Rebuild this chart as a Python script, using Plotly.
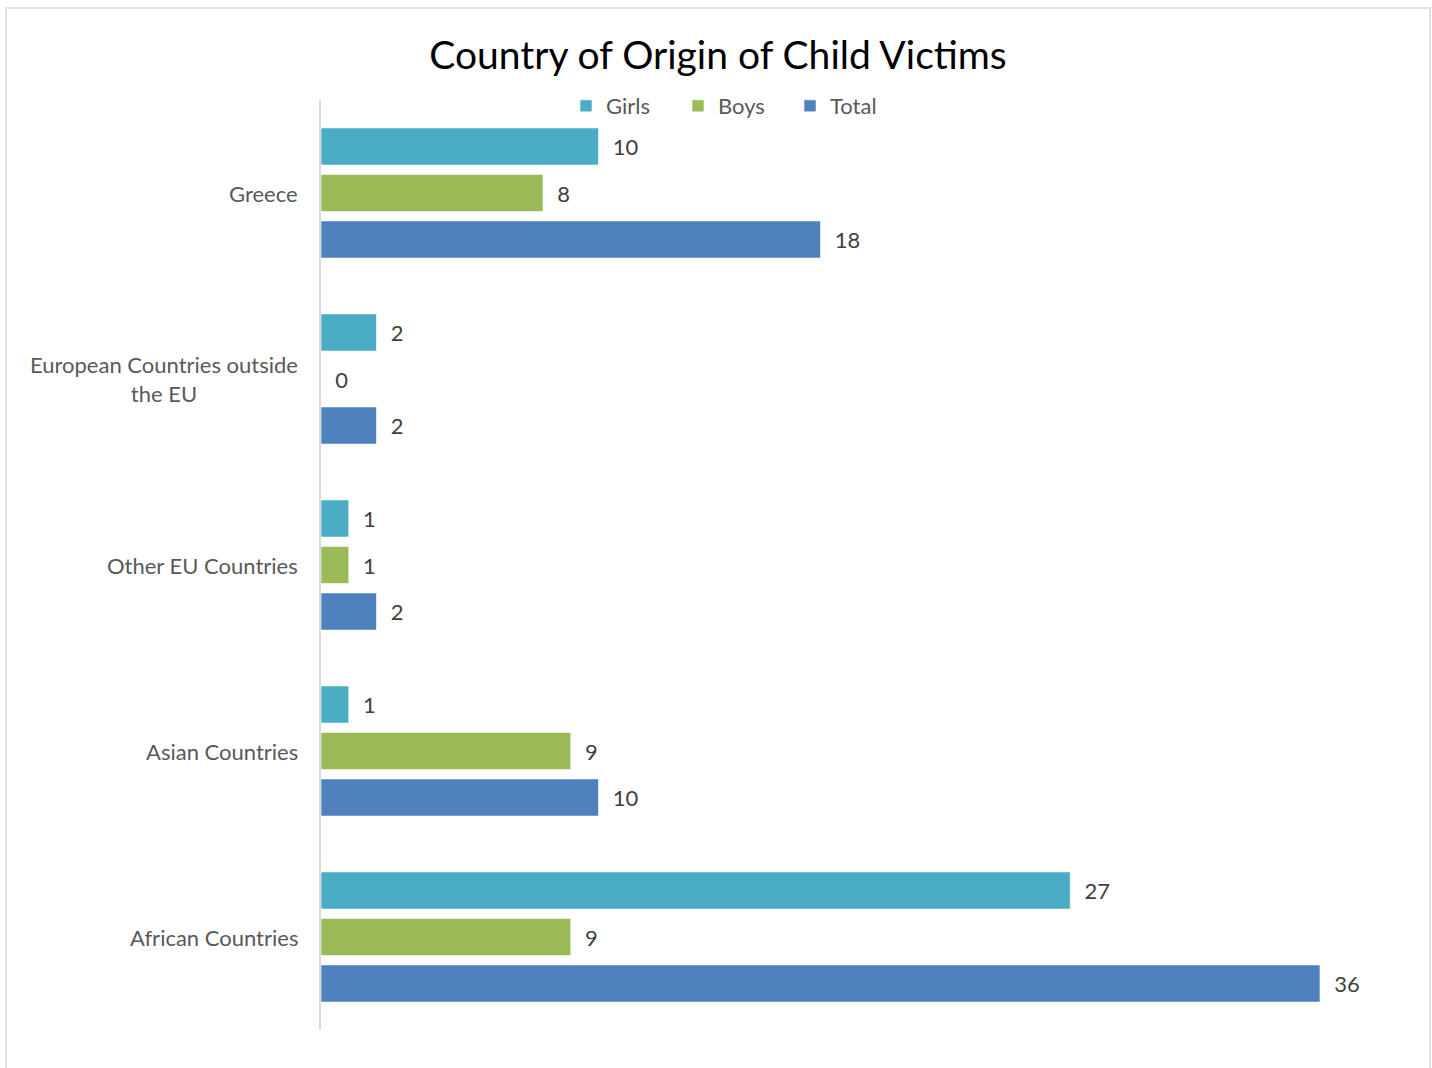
import plotly.graph_objects as go

categories = ["Greece", "European Countries outside the EU", "Other EU Countries",
              "Asian Countries", "African Countries"]
category_labels = ["Greece", "European Countries outside<br>the EU", "Other EU Countries",
                   "Asian Countries", "African Countries"]
girls = [10, 2, 1, 1, 27]
boys = [8, 0, 1, 9, 9]
total = [18, 2, 2, 10, 36]

series = [("Girls", girls, "#4BACC6"), ("Boys", boys, "#9BBB59"), ("Total", total, "#4F81BD")]

FONT = "Lato, 'Open Sans', sans-serif"
W, H = 1432, 1068
ML, MR, MT, MB = 321, 1432 - 1400, 100, 1068 - 1030
pw = W - ML - MR
ph = H - MT - MB


def px_x(x):  # window pixel x -> paper coordinate
    return (x - ML) / pw


def px_y(y):  # window pixel y -> paper coordinate
    return 1 - (y - MT) / ph


fig = go.Figure()
for name, vals, col in series:
    fig.add_trace(go.Bar(
        name=name, y=categories, x=vals, orientation="h",
        marker=dict(color=col, line=dict(color="rgba(255,255,255,0.6)", width=1)),
        text=vals, texttemplate="\u00a0\u00a0%{x}", textposition="outside",
        textfont=dict(family=FONT, size=22, color="#404040"),
        constraintext="none", cliponaxis=False,
    ))

annotations = []
for cat, lab in zip(categories, category_labels):
    annotations.append(dict(
        text=lab, x=px_x(300), xref="paper", xanchor="right",
        y=cat, yref="y", yanchor="middle", showarrow=False, align="center",
        font=dict(family=FONT, size=22, color="#595959"),
    ))

fig.update_layout(
    width=W, height=H,
    margin=dict(l=ML, r=MR, t=MT, b=MB, pad=0),
    paper_bgcolor="white", plot_bgcolor="white",
    barmode="group", bargap=0.25, bargroupgap=0.2,
    title=dict(text="Country of Origin of Child Victims",
               x=718 / W, xanchor="center", y=1 - 55 / H, yanchor="middle",
               font=dict(family=FONT, size=39, color="#000000")),
    legend=dict(orientation="h", x=px_x(734), xanchor="center",
                y=px_y(106), yanchor="middle",
                font=dict(family=FONT, size=22, color="#595959"),
                entrywidth=67, entrywidthmode="pixels",
                bgcolor="rgba(0,0,0,0)", traceorder="normal"),
    xaxis=dict(range=[0, pw / ((1320 - 321) / 36)], showgrid=False, zeroline=False,
               showticklabels=False, showline=False, ticks=""),
    yaxis=dict(type="category", categoryorder="array", categoryarray=categories,
               range=[4.5, -0.5], showgrid=False, zeroline=False, showticklabels=False,
               showline=True, linecolor="#D9D9D9", linewidth=1.5, ticks=""),
    annotations=annotations,
    shapes=[dict(type="rect", xref="paper", yref="paper",
                 x0=px_x(6), x1=px_x(1430),
                 y0=px_y(1080), y1=px_y(8),
                 line=dict(color="#D9D9D9", width=1.5), fillcolor="rgba(0,0,0,0)",
                 layer="above")],
    showlegend=True,
)

fig.write_html("out.html", config={"displayModeBar": False},
               post_script="document.body.style.margin='0';")
